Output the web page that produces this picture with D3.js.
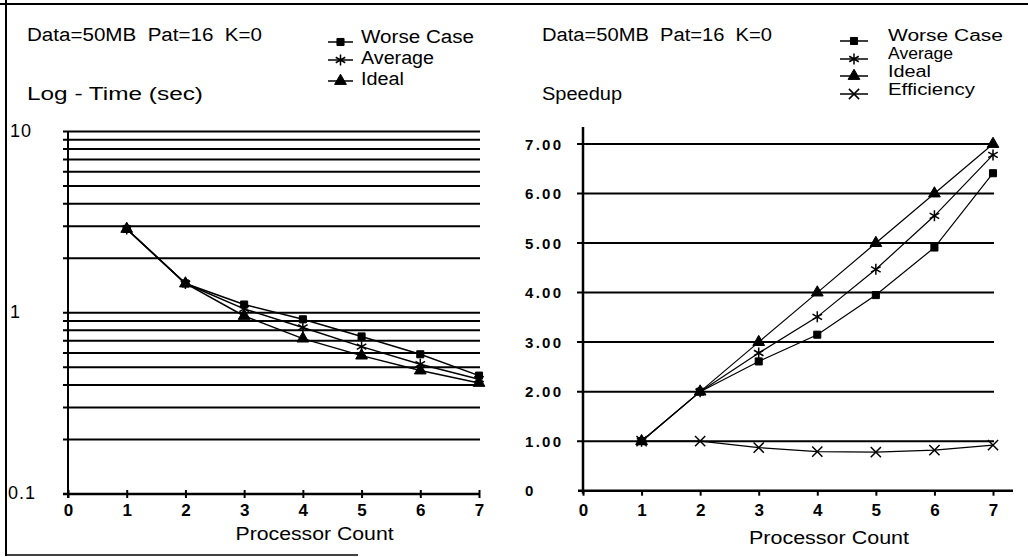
<!DOCTYPE html>
<html>
<head>
<meta charset="utf-8">
<script src="https://cdn.jsdelivr.net/npm/d3@7"></script>
<style>
  body { margin: 0; background: #fff; }
  svg text { font-family: "Liberation Sans", Arial, sans-serif; fill: #000; white-space: pre; }
  .lbl { font-size: 18px; }
  .ylab { font-size: 18px; letter-spacing: 1px; }
  .xnum { font-size: 17px; font-weight: bold; }
  .snum { font-size: 15px; font-weight: bold; letter-spacing: 2.3px; }
</style>
</head>
<body>
<svg id="chart" width="1028" height="557"></svg>
<script>
// Processor counts and measured series
const processors = [1, 2, 3, 4, 5, 6, 7];
const timeWorse   = [2.90, 1.45, 1.11, 0.92, 0.74, 0.59, 0.45];
const timeAverage = [2.90, 1.45, 1.05, 0.83, 0.65, 0.52, 0.43];
const timeIdeal   = [2.90, 1.45, 0.96, 0.72, 0.58, 0.48, 0.41];
const speedWorse   = [1.00, 2.00, 2.61, 3.15, 3.95, 4.91, 6.41];
const speedAverage = [1.00, 2.00, 2.78, 3.51, 4.47, 5.55, 6.78];
const speedIdeal   = [1.00, 2.00, 3.00, 4.00, 5.00, 6.00, 7.00];
const efficiency   = [1.00, 1.00, 0.87, 0.79, 0.78, 0.82, 0.92];

// Axis ticks and labels
const xTicks = [0, 1, 2, 3, 4, 5, 6, 7];
const logGrid = [0.2, 0.3, 0.4, 0.5, 0.6, 0.7, 0.8, 0.9, 1, 2, 3, 4, 5, 6, 7, 8, 9, 10];
const logLabels = [0.1, 1, 10];
const speedTicks = [0, 1, 2, 3, 4, 5, 6, 7];
const speedTickLabels = ["0", "1.00", "2.00", "3.00", "4.00", "5.00", "6.00", "7.00"];

const titleText = "Data=50MB  Pat=16  K=0";
const leftLegend = ["Worse Case", "Average", "Ideal"];
const rightLegend = ["Worse Case", "Average", "Ideal", "Efficiency"];

const svg = d3.select("#chart");

// Frame edges
svg.append("line").attr("x1", 0).attr("x2", 1028).attr("y1", 4).attr("y2", 4)
  .attr("stroke", "#000").attr("stroke-width", 2);
svg.append("line").attr("x1", 6).attr("x2", 6).attr("y1", 0).attr("y2", 556)
  .attr("stroke", "#000").attr("stroke-width", 2);
svg.append("line").attr("x1", 6).attr("x2", 358).attr("y1", 555).attr("y2", 555)
  .attr("stroke", "#000").attr("stroke-width", 1.5);

// Text fitted to a given run length
function label(g, x, y, str, len, size, anchor) {
  const t = g.append("text").attr("class", "lbl")
    .attr("x", x).attr("y", y).text(str)
    .attr("textLength", len).attr("lengthAdjust", "spacingAndGlyphs");
  if (size) t.style("font-size", size + "px");
  if (anchor) t.attr("text-anchor", anchor);
  return t;
}

// Marker drawing
const symbolDefs = {
  square:   { type: d3.symbolSquare,   size: 50, fill: true },
  asterisk: { type: d3.symbolAsterisk, size: 85, fill: false },
  triangle: { type: d3.symbolTriangle, size: 60, fill: true },
  times:    { type: d3.symbolTimes,    size: 70, fill: false }
};
function marker(g, kind, x, y) {
  const d = symbolDefs[kind];
  g.append("path")
    .attr("transform", `translate(${x},${y})`)
    .attr("d", d3.symbol().type(d.type).size(d.size)())
    .attr("fill", d.fill ? "#000" : "none")
    .attr("stroke", "#000")
    .attr("stroke-width", d.fill ? 1 : 1.5);
}
function series(g, xs, ys, values, kind, width) {
  const line = d3.line().x((d, i) => xs(processors[i])).y(d => ys(d));
  g.append("path").datum(values).attr("d", line)
    .attr("fill", "none").attr("stroke", "#000").attr("stroke-width", width);
  values.forEach((v, i) => marker(g, kind, xs(processors[i]), ys(v)));
}
function legend(g, items, kinds, x0, x1, textX, rows) {
  items.forEach((name, i) => {
    g.append("line").attr("x1", x0).attr("x2", x1).attr("y1", rows[i].m).attr("y2", rows[i].m)
      .attr("stroke", "#000").attr("stroke-width", 1.5);
    marker(g, kinds[i], (x0 + x1) / 2, rows[i].m);
    label(g, textX, rows[i].t, name, rows[i].w, rows[i].s);
  });
}

// ---------- Left panel: log time ----------
const L = svg.append("g");
const xL = d3.scaleLinear().domain([0, 7]).range([68, 479]);
const yL = d3.scaleLog().domain([0.1, 10]).range([494, 131.5]);

label(L, 27, 41, titleText, 235);
label(L, 27, 100, "Log - Time (sec)", 176);

// horizontal grid
L.selectAll(".gl").data(logGrid).join("line")
  .attr("x1", 63).attr("x2", 480)
  .attr("y1", d => yL(d)).attr("y2", d => yL(d))
  .attr("stroke", "#000").attr("stroke-width", 2);

// y labels
L.selectAll(".yl").data(logLabels).join("text")
  .attr("class", "ylab")
  .attr("x", d => d === 0.1 ? 8 : 10)
  .attr("y", d => yL(d) + 5)
  .text(d => d === 0.1 ? "0.1" : String(d));

// axes
const xAxisL = d3.axisBottom(xL).tickValues(xTicks).tickSize(4).tickFormat(d3.format("d"));
const gxL = L.append("g").attr("transform", `translate(0,${yL(0.1)})`).call(xAxisL);
gxL.select(".domain").attr("stroke-width", 2.5).attr("d", `M${xL(0) - 5},0H${xL(7)}`);
gxL.selectAll(".tick line").attr("y1", -4).attr("stroke-width", 2);
gxL.selectAll(".tick text").attr("class", "xnum").attr("y", 10)
  .attr("font-family", null).attr("font-size", null);
L.append("line").attr("x1", xL(0)).attr("x2", xL(0)).attr("y1", yL(10)).attr("y2", yL(0.1) + 4)
  .attr("stroke", "#000").attr("stroke-width", 2);

label(L, xL(4.2), 540, "Processor Count", 158, null, "middle");

series(L, xL, yL, timeWorse, "square", 1.5);
series(L, xL, yL, timeAverage, "asterisk", 1.5);
series(L, xL, yL, timeIdeal, "triangle", 1.5);

legend(L, leftLegend, ["square", "asterisk", "triangle"], 328, 353, 361, [
  { m: 42, t: 43, w: 113 },
  { m: 60, t: 64, w: 73 },
  { m: 81, t: 85, w: 43 }
]);

// ---------- Right panel: speedup ----------
const R = svg.append("g");
const xR = d3.scaleLinear().domain([0, 7]).range([583, 993]);
const yR = d3.scaleLinear().domain([0, 7]).range([490.7, 144]);

label(R, 542, 41, titleText, 230);
label(R, 542, 100, "Speedup", 80);

R.selectAll(".gl").data(speedTicks.filter(d => d > 0)).join("line")
  .attr("x1", 577).attr("x2", 994)
  .attr("y1", d => yR(d)).attr("y2", d => yR(d))
  .attr("stroke", "#000").attr("stroke-width", 2);

R.selectAll(".yl").data(speedTicks).join("text")
  .attr("class", "snum")
  .attr("x", 525).attr("y", d => yR(d) + 5.5)
  .text((d, i) => speedTickLabels[i]);

const xAxisR = d3.axisBottom(xR).tickValues(xTicks).tickSize(5).tickFormat(d3.format("d"));
const gxR = R.append("g").attr("transform", `translate(0,${yR(0)})`).call(xAxisR);
gxR.select(".domain").attr("stroke-width", 2.5).attr("d", `M${xR(0) - 5},0H1013`);
gxR.selectAll(".tick line").attr("stroke-width", 2);
gxR.selectAll(".tick text").attr("class", "xnum").attr("y", 13)
  .attr("font-family", null).attr("font-size", null);
R.append("line").attr("x1", xR(0)).attr("x2", xR(0)).attr("y1", 127).attr("y2", yR(0) + 3)
  .attr("stroke", "#000").attr("stroke-width", 2.5);

label(R, xR(4.2), 544, "Processor Count", 160, null, "middle");

series(R, xR, yR, speedIdeal, "triangle", 1.2);
series(R, xR, yR, speedAverage, "asterisk", 1.2);
series(R, xR, yR, speedWorse, "square", 1.2);
series(R, xR, yR, efficiency, "times", 1.2);

legend(R, rightLegend, ["square", "asterisk", "triangle", "times"], 840, 868, 888, [
  { m: 41, t: 41, w: 115, s: 16 },
  { m: 59, t: 59, w: 65, s: 16 },
  { m: 76, t: 77, w: 43, s: 16 },
  { m: 94, t: 95, w: 87, s: 16 }
]);
</script>
</body>
</html>
